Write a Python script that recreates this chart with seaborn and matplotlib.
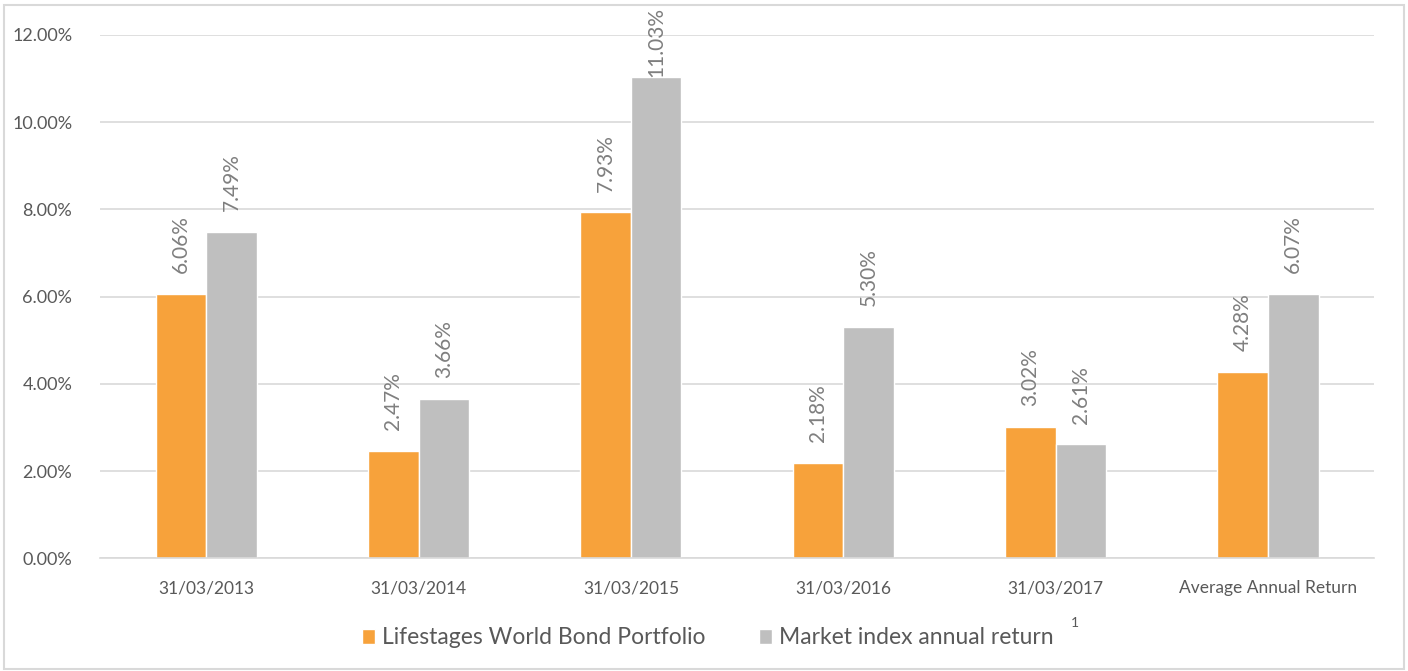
import pandas as pd
import matplotlib.pyplot as plt
import seaborn as sns
from matplotlib.patches import Rectangle

# -----------------------------
# Data
# -----------------------------
periods = ["31/03/2013", "31/03/2014", "31/03/2015", "31/03/2016", "31/03/2017",
           "Average Annual Return"]
portfolio = [6.06, 2.47, 7.93, 2.18, 3.02, 4.28]
market = [7.49, 3.66, 11.03, 5.30, 2.61, 6.07]
series = ["Lifestages World Bond Portfolio", "Market index annual return"]

df = pd.DataFrame({
    "Period": periods * 2,
    "Return": portfolio + market,
    "Series": [series[0]] * len(periods) + [series[1]] * len(periods),
})

sns.set_theme(style="white")
plt.rcParams["font.family"] = ["Lato", "DejaVu Sans"]

GREY_TXT = "#7f7f7f"
colors = ["#F7A23B", "#BFBFBF"]

fig = plt.figure(figsize=(14.08, 6.71), dpi=100)
ax = fig.add_axes([0.071, 0.168, 0.905, 0.780])

sns.barplot(data=df, x="Period", y="Return", hue="Series", palette=colors,
            width=0.476, gap=0, saturation=1, ax=ax, legend=True)

ax.set_ylim(0, 12)
ax.set_xlim(-0.5, len(periods) - 0.5)

# value labels (rotated, pulled down when they would leave the chart area)
for c in ax.containers:
    for bar, v in zip(c, c.datavalues):
        off = 15 if v < 10.5 else 0
        ax.annotate(f"{v:.2f}%", (bar.get_x() + bar.get_width() / 2, v),
                    xytext=(0, off), textcoords="offset points",
                    rotation=90, ha="center", va="bottom",
                    fontsize=15, color=GREY_TXT, annotation_clip=False)

ax.set_yticks(range(0, 13, 2))
ax.set_yticklabels([f"{v:.2f}%" for v in range(0, 13, 2)], fontsize=13, color="#595959")
ax.tick_params(axis="y", length=0, pad=20)
ax.tick_params(axis="x", length=0, labelsize=12.5, labelcolor="#595959", pad=16)
ax.yaxis.grid(True, color="#D9D9D9", linewidth=1.2)
ax.set_axisbelow(True)
ax.set_xlabel("")
ax.set_ylabel("")

for s in ["top", "right", "left"]:
    ax.spines[s].set_visible(False)
ax.spines["bottom"].set_color("#D9D9D9")
ax.spines["bottom"].set_linewidth(1.2)

# category boundary ticks
ax.set_xticks([i - 0.5 for i in range(len(periods) + 1)], minor=True)
ax.tick_params(axis="x", which="minor", length=6, color="#D9D9D9", width=1.2, direction="out")

ax.legend(loc="center", bbox_to_anchor=(0.477, -0.152), ncol=2, frameon=False,
          fontsize=16.5, labelcolor="#595959", handlelength=0.6, handleheight=0.6,
          handletextpad=0.3, columnspacing=2.3)
fig.text(0.7606, 0.066, "1", fontsize=10, color="#595959")

fig.patches.append(Rectangle((0.003, 0.003), 0.994, 0.99, transform=fig.transFigure,
                             fill=False, edgecolor="#D9D9D9", linewidth=1.5))

plt.savefig("out.png", dpi=100)
plt.close()
